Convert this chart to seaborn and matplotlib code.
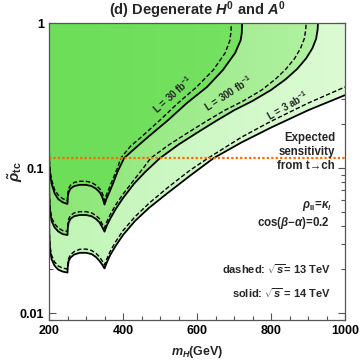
import numpy as np
import matplotlib
matplotlib.use("Agg")
import matplotlib.pyplot as plt
from matplotlib.patches import Polygon
from matplotlib.colors import LinearSegmentedColormap
import seaborn as sns

# --- sensitivity curves: m_H (GeV) vs rho_tc ---
# L = 30 fb^-1
m_30_solid = [200.3, 201, 203, 207, 215, 225, 237, 250, 250.5, 253, 258, 268, 283, 300, 315, 327, 337, 344, 350,
              355, 362, 372, 385, 403, 430, 468, 522, 573, 627, 670, 703, 718, 721, 722]
r_30_solid = [0.13, 0.105, 0.09, 0.078, 0.067, 0.061, 0.058, 0.0565, 0.063, 0.068, 0.072, 0.075, 0.0765, 0.0765, 0.075, 0.072, 0.068, 0.063, 0.056,
              0.061, 0.067, 0.077, 0.094, 0.117, 0.135, 0.164, 0.214, 0.281, 0.362, 0.474, 0.621, 0.76, 0.853, 1.0]
m_30_dash = [200.3, 201, 203, 207, 215, 225, 237, 250, 250.5, 253, 258, 268, 283, 300, 315, 327, 337, 344, 350,
             355, 362, 372, 385, 394, 420, 450, 500, 549, 599, 644, 676, 689, 692, 693]
r_30_dash = [0.14, 0.112, 0.096, 0.083, 0.071, 0.065, 0.0615, 0.0595, 0.066, 0.072, 0.076, 0.0795, 0.081, 0.081, 0.0795, 0.076, 0.072, 0.067, 0.0595,
             0.065, 0.072, 0.083, 0.1, 0.117, 0.141, 0.164, 0.214, 0.281, 0.362, 0.474, 0.621, 0.76, 0.88, 1.0]

# L = 300 fb^-1
m_300_solid = [200.3, 201, 203, 207, 215, 225, 237, 250, 250.5, 253, 258, 268, 283, 300, 315, 327, 337, 344, 350,
               356, 365, 380, 400, 430, 460, 500, 550, 600, 650, 700, 750, 800, 840, 870, 895, 912, 922, 926, 927]
r_300_solid = [0.08, 0.062, 0.05, 0.043, 0.039, 0.0365, 0.035, 0.0345, 0.038, 0.042, 0.0445, 0.0465, 0.0474, 0.0474, 0.0465, 0.0445, 0.042, 0.039, 0.0364,
               0.040, 0.0445, 0.052, 0.062, 0.078, 0.094, 0.117, 0.145, 0.175, 0.21, 0.25, 0.29, 0.345, 0.41, 0.48, 0.57, 0.67, 0.78, 0.9, 1.0]
m_300_dash = [200.3, 201, 203, 207, 215, 225, 237, 250, 250.5, 253, 258, 268, 283, 300, 315, 327, 337, 344, 350,
              356, 365, 380, 400, 430, 455, 475, 525, 575, 625, 675, 725, 775, 812, 840, 864, 880, 890, 894, 895]
r_300_dash = [0.085, 0.066, 0.053, 0.0455, 0.0412, 0.0386, 0.037, 0.0365, 0.040, 0.0445, 0.047, 0.049, 0.050, 0.050, 0.049, 0.047, 0.0445, 0.041, 0.0385,
              0.0425, 0.0475, 0.0555, 0.066, 0.083, 0.1, 0.117, 0.145, 0.175, 0.21, 0.25, 0.29, 0.345, 0.41, 0.48, 0.57, 0.67, 0.78, 0.9, 1.0]

# L = 3 ab^-1
m_3ab_solid = [200.3, 201, 203, 207, 215, 225, 237, 250, 250.5, 253, 258, 268, 283, 300, 315, 327, 337, 344, 350,
               356, 365, 380, 400, 432, 470, 520, 580, 645, 720, 800, 900, 1000]
r_3ab_solid = [0.045, 0.034, 0.027, 0.0235, 0.0212, 0.0199, 0.0193, 0.019, 0.0205, 0.0228, 0.0241, 0.0253, 0.026, 0.026, 0.0255, 0.0243, 0.0228, 0.0215, 0.0203,
               0.0222, 0.025, 0.029, 0.0345, 0.043, 0.053, 0.067, 0.088, 0.117, 0.15, 0.19, 0.25, 0.318]
m_3ab_dash = [200.3, 201, 203, 207, 215, 225, 237, 250, 250.5, 253, 258, 268, 283, 300, 315, 327, 337, 344, 350,
              356, 365, 380, 400, 432, 470, 520, 580, 630, 720, 800, 900, 1000]
r_3ab_dash = [0.048, 0.036, 0.0287, 0.025, 0.0225, 0.0211, 0.0204, 0.0201, 0.0215, 0.0238, 0.0252, 0.0265, 0.0275, 0.0276, 0.027, 0.0258, 0.0243, 0.0228, 0.0214,
              0.0235, 0.0265, 0.031, 0.037, 0.046, 0.057, 0.073, 0.096, 0.117, 0.163, 0.21, 0.28, 0.362]

tch_limit = 0.117

sns.set_style("ticks")
plt.rcParams['font.family'] = ['Liberation Sans', 'DejaVu Sans']
plt.rcParams['font.weight'] = 'bold'
plt.rcParams['mathtext.fontset'] = 'custom'
plt.rcParams['mathtext.rm'] = 'Liberation Sans:bold'
plt.rcParams['mathtext.it'] = 'Liberation Sans:italic:bold'
plt.rcParams['mathtext.bf'] = 'Liberation Sans:bold'

fig = plt.figure(figsize=(3.6, 3.61), dpi=100)
ax = fig.add_axes([49 / 360, 1 - 320 / 361, 296 / 360, 297 / 361])
ax.set_yscale("log")
ax.set_xlim(200, 1000)
ax.set_ylim(10 ** (-2 - 7 / 145), 1)

# filled regions (widest first), each with a soft left-to-right gradient
fills = [(m_3ab_solid, r_3ab_solid, ["#c0f5b6", "#dcfbd4"]),
         (m_300_solid, r_300_solid, ["#8ce676", "#b4f2a5"]),
         (m_30_solid, r_30_solid, ["#6cde58", "#7ae466"])]
grad = np.linspace(0, 1, 256).reshape(1, -1)
for ms, rs, cols in fills:
    if ms[-1] >= 1000:
        xs = list(ms) + [1000, 200, 200]
        ys = list(rs) + [1.0, 1.0, rs[0]]
    else:
        xs = list(ms) + [200, 200]
        ys = list(rs) + [1.0, rs[0]]
    poly = Polygon(np.column_stack([xs, ys]), closed=True, fc="none", lw=0, transform=ax.transData)
    ax.add_patch(poly)
    cmap = LinearSegmentedColormap.from_list("g", cols)
    im = ax.imshow(grad, cmap=cmap, aspect="auto", extent=[0, 1, 0, 1],
                   transform=ax.transAxes, zorder=1, interpolation="bilinear")
    im.set_clip_path(poly)

for ms, rs, ls in [(m_30_solid, r_30_solid, "-"), (m_30_dash, r_30_dash, "--"),
                   (m_300_solid, r_300_solid, "-"), (m_300_dash, r_300_dash, "--"),
                   (m_3ab_solid, r_3ab_solid, "-"), (m_3ab_dash, r_3ab_dash, "--")]:
    sns.lineplot(x=ms, y=rs, sort=False, estimator=None, ax=ax, color="black",
                 lw=1.3 if ls == "-" else 1.0, zorder=3)
    if ls == "--":
        ax.lines[-1].set_dashes([3.2, 1.6])

ax.axhline(tch_limit, color="#ff6a00", ls=(0, (1, 1)), lw=1.6, zorder=4)

ax.set_xlim(200, 1000)
ax.set_ylim(10 ** (-2 - 7 / 145), 1)
ax.set_xticks([200, 400, 600, 800, 1000])
ax.set_xticks(np.arange(250, 1000, 50), minor=True)
ax.set_yticks([0.01, 0.1, 1])
ax.set_yticklabels(["0.01", "0.1", "1"])
ax.tick_params(which="both", direction="in", top=True, right=True, colors="#555555",
               labelcolor="black", labelsize=9, width=0.8)
ax.tick_params(which="major", length=5)
ax.tick_params(which="minor", length=3)
for s in ax.spines.values():
    s.set_color("#555555")
    s.set_linewidth(0.9)
    s.set_zorder(5)

ax.set_xlabel(r"$m_H$(GeV)", fontsize=9, fontweight="bold", labelpad=5)
ax.set_ylabel(r"$\tilde{\rho}_{\mathrm{tc}}$", fontsize=11)
ax.yaxis.set_label_coords(-24 / 296, 0.5)
ax.set_title(r"(d) Degenerate $H^0$ and $A^0$", fontsize=10.5, fontweight="bold", pad=6)

ax.text(0.966, 0.566, "Expected\nsensitivity\nfrom t\u2192ch", transform=ax.transAxes, ha="right",
        va="center", fontsize=8.3, fontweight="bold", linespacing=1.2, zorder=6)
ax.text(0.956, 0.384, r"$\rho_{\mathrm{ll}}\!=\!\kappa_l$", transform=ax.transAxes, ha="right",
        va="center", fontsize=8.3)
ax.text(0.949, 0.327, r"cos($\beta$$-$$\alpha$)=0.2", transform=ax.transAxes, ha="right",
        va="center", fontsize=8.3, fontweight="bold")
ax.text(0.953, 0.172, r"dashed: $\sqrt{s}$= 13 TeV", transform=ax.transAxes, ha="right",
        va="center", fontsize=8, fontweight="bold")
ax.text(0.953, 0.091, r"solid: $\sqrt{s}$ = 14 TeV", transform=ax.transAxes, ha="right",
        va="center", fontsize=8, fontweight="bold")

ax.text(535, 0.324, r"L = 30 fb$^{-1}$", rotation=42, fontsize=7, ha="center", va="center", zorder=6)
ax.text(684, 0.33, r"L = 300 fb$^{-1}$", rotation=33, fontsize=7, ha="center", va="center", zorder=6)
ax.text(846, 0.268, r"L = 3 ab$^{-1}$", rotation=30, fontsize=7, ha="center", va="center", zorder=6)

fig.savefig("out.png", dpi=100)
